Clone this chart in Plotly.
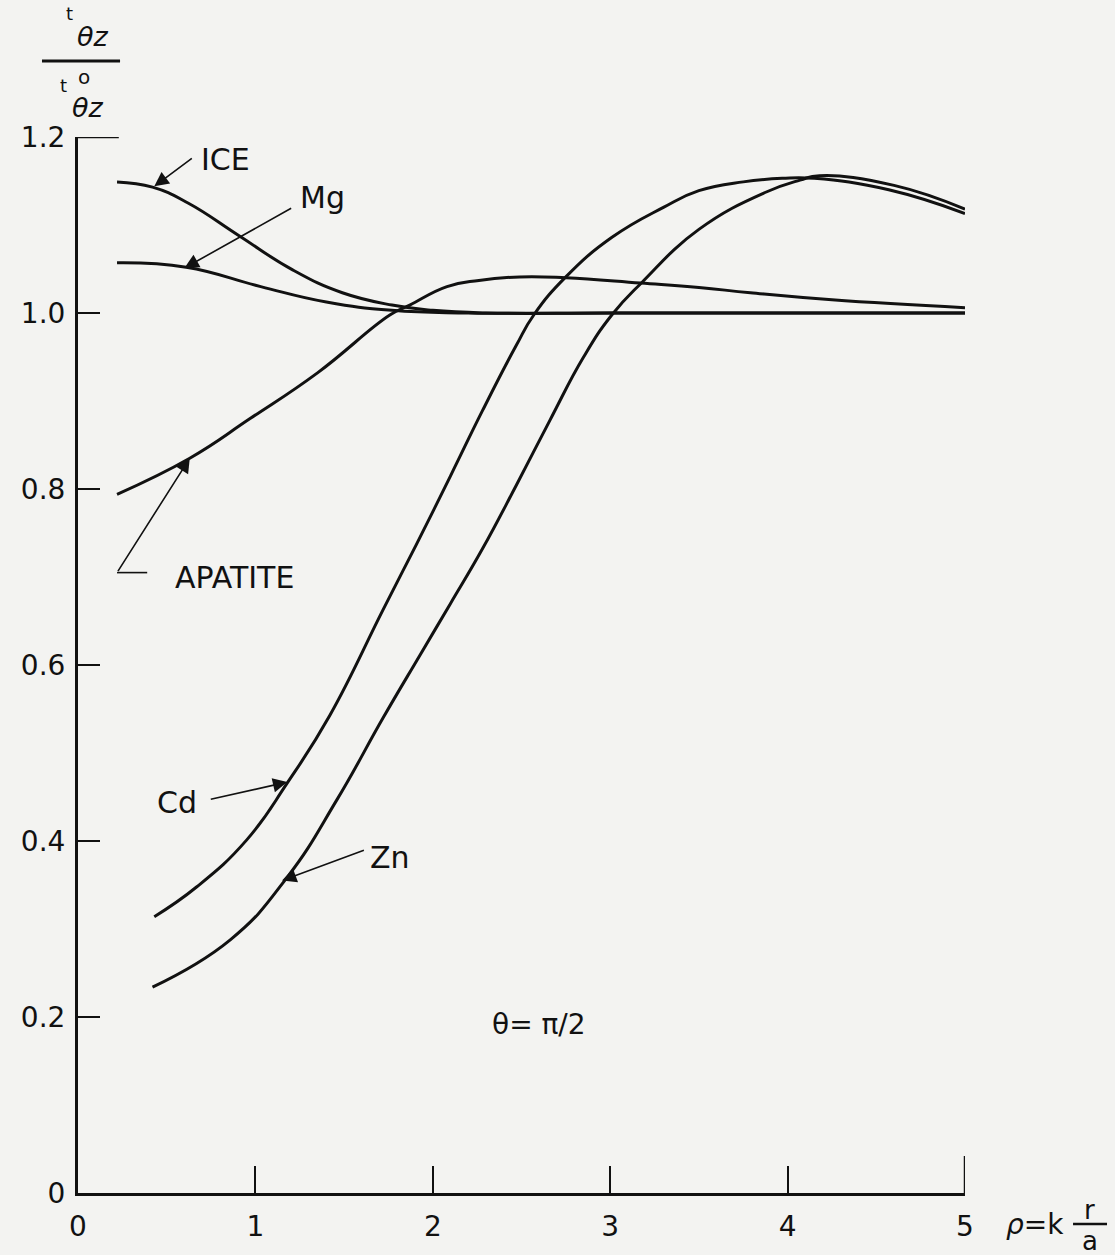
import plotly.graph_objects as go

# ---- data ----
ice_x = [0.22, 0.42, 0.62, 0.91, 1.21, 1.49, 1.77, 2.0, 2.3, 3.0, 4.0, 5.0]
ice_y = [1.149, 1.143, 1.125, 1.0875, 1.049, 1.023, 1.009, 1.003, 1.0, 1.0, 1.0, 1.0]

mg_x = [0.22, 0.61, 1.03, 1.40, 1.77, 2.2, 3.0, 4.0, 5.0]
mg_y = [1.057, 1.052, 1.030, 1.0125, 1.003, 1.0, 1.0, 1.0, 1.0]

apatite_x = [0.22, 0.63, 0.97, 1.35, 1.76, 1.87, 2.08, 2.26, 2.49, 2.75, 3.17, 3.50, 3.79, 4.25, 5.0]
apatite_y = [0.794, 0.835, 0.880, 0.932, 0.998, 1.009, 1.030, 1.037, 1.041, 1.040, 1.034, 1.029, 1.023, 1.015, 1.006]

cd_x = [0.43, 0.67, 0.95, 1.18, 1.42, 1.72, 1.91, 2.10, 2.28, 2.47, 2.57, 2.75, 3.01, 3.30, 3.50, 3.75, 3.97, 4.15, 4.57, 5.0]
cd_y = [0.314, 0.348, 0.401, 0.466, 0.543, 0.663, 0.738, 0.815, 0.889, 0.963, 0.998, 1.041, 1.086, 1.120, 1.139, 1.149, 1.153, 1.153, 1.140, 1.113]

zn_x = [0.42, 0.86, 1.18, 1.46, 1.72, 1.93, 2.10, 2.28, 2.47, 2.66, 2.85, 3.01, 3.18, 3.50, 3.88, 4.07, 4.18, 4.6, 5.0]
zn_y = [0.234, 0.288, 0.359, 0.447, 0.540, 0.612, 0.670, 0.732, 0.804, 0.878, 0.950, 0.998, 1.035, 1.095, 1.1375, 1.151, 1.156, 1.145, 1.118]

x_ticks = [0, 1, 2, 3, 4, 5]
x_ticktext = ["0", "1", "2", "3", "4", "5"]
y_ticks = [0, 0.2, 0.4, 0.6, 0.8, 1.0, 1.2]
y_ticktext = ["0", "0.2", "0.4", "0.6", "0.8", "1.0", "1.2"]

BG = "#f3f3f1"
INK = "#111111"
FONT = "DejaVu Sans"

fig = go.Figure()
for xs, ys in [(ice_x, ice_y), (mg_x, mg_y), (apatite_x, apatite_y), (cd_x, cd_y), (zn_x, zn_y)]:
    fig.add_trace(go.Scatter(x=xs, y=ys, mode="lines",
                             line=dict(color=INK, width=3, shape="spline", smoothing=1.3),
                             showlegend=False, hoverinfo="skip"))

annotations = []

def label(text, x, y, size=30):
    annotations.append(dict(x=x, y=y, xref="x", yref="y", text=text, showarrow=False,
                            xanchor="center", yanchor="middle",
                            font=dict(family=FONT, size=size, color=INK)))

def arrow(hx, hy, tx, ty):
    annotations.append(dict(x=hx, y=hy, xref="x", yref="y", ax=tx, ay=ty, axref="x", ayref="y",
                            text="", showarrow=True, arrowhead=2, arrowsize=1.8,
                            arrowwidth=1.6, arrowcolor=INK))

# curve labels
label("ICE", 0.83, 1.174)
arrow(0.43, 1.144, 0.65, 1.177)
label("Mg", 1.38, 1.131)
arrow(0.60, 1.051, 1.21, 1.120)
label("APATITE", 0.88, 0.699)
arrow(0.63, 0.835, 0.22, 0.705)
label("Cd", 0.56, 0.444)
arrow(1.18, 0.467, 0.74, 0.447)
label("Zn", 1.76, 0.381)
arrow(1.15, 0.355, 1.62, 0.390)
label("θ= π/2", 2.60, 0.191, size=28)

# y-axis title as a stacked fraction (paper coordinates)
def ptext(text, xp, yp, size):
    annotations.append(dict(x=xp, y=yp, xref="paper", yref="paper", text=text, showarrow=False,
                            xanchor="center", yanchor="middle",
                            font=dict(family=FONT, size=size, color=INK)))

ptext("t", -0.0101, 1.1165, 18)
ptext("<i>θz</i>", 0.0169, 1.0947, 27)
ptext("t", -0.0169, 1.0483, 18)
ptext("o", 0.0068, 1.0568, 20)
ptext("<i>θz</i>", 0.0113, 1.0275, 27)

# x-axis title ρ = k r/a
ptext("<i>ρ</i>=k", 1.0789, -0.0294, 28)
ptext("r", 1.1409, -0.0165, 26)
ptext("a", 1.1409, -0.0455, 26)

shapes = [
    dict(type="line", xref="paper", yref="paper", x0=-0.0406, x1=0.0474, y0=1.072, y1=1.072,
         line=dict(color=INK, width=3)),
    dict(type="line", xref="paper", yref="paper", x0=1.1218, x1=1.1601, y0=-0.0294, y1=-0.0294,
         line=dict(color=INK, width=2.5)),
    # longer end ticks at 1.2 and 5
    dict(type="line", xref="x", yref="y", x0=0, x1=0.23, y0=1.2, y1=1.2,
         line=dict(color=INK, width=2.5)),
    dict(type="line", xref="x", yref="y", x0=5, x1=5, y0=0, y1=0.042,
         line=dict(color=INK, width=2.5)),
    # APATITE bent leader
    dict(type="line", xref="x", yref="y", x0=0.22, x1=0.39, y0=0.705, y1=0.705,
         line=dict(color=INK, width=1.6)),
]

fig.update_layout(
    width=1115, height=1255, autosize=False,
    margin=dict(l=78, r=150, t=137, b=62, pad=0),
    paper_bgcolor=BG, plot_bgcolor=BG,
    annotations=annotations, shapes=shapes,
    font=dict(family=FONT, color=INK),
    xaxis=dict(range=[0, 5], tickvals=x_ticks, ticktext=x_ticktext, showgrid=False, zeroline=False,
               showline=True, linecolor=INK, linewidth=3, ticks="inside", ticklen=27, tickwidth=2,
               tickcolor=INK, tickfont=dict(family=FONT, size=28, color=INK), ticklabelstandoff=6),
    yaxis=dict(range=[0, 1.2], tickvals=y_ticks, ticktext=y_ticktext, showgrid=False, zeroline=False,
               showline=True, linecolor=INK, linewidth=3, ticks="inside", ticklen=22, tickwidth=2,
               tickcolor=INK, tickfont=dict(family=FONT, size=28, color=INK), ticklabelstandoff=4),
)

fig.write_html("out.html", config={"displayModeBar": False},
               post_script="document.body.style.margin='0';document.body.style.background='%s';" % BG)
